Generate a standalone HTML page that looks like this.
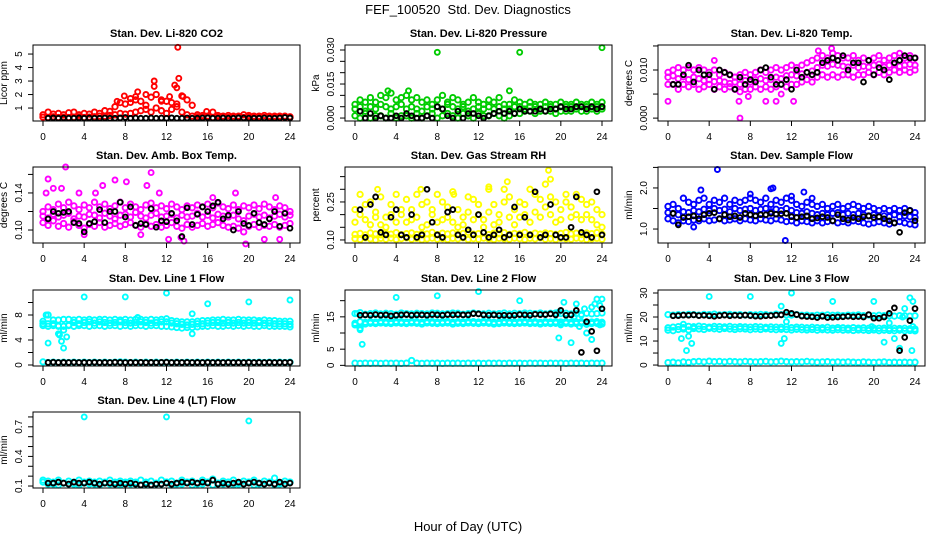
<!DOCTYPE html>
<html><head><meta charset="utf-8"><style>
html,body{margin:0;padding:0;background:#fff;}
svg{display:block;font-family:"Liberation Sans",sans-serif;}
</style></head><body>
<svg id="fig" width="936" height="540" viewBox="0 0 936 540">
<text x="468" y="14" text-anchor="middle" font-size="13" style="white-space:pre">FEF_100520  Std. Dev. Diagnostics</text>
<text x="468" y="531" text-anchor="middle" font-size="13">Hour of Day (UTC)</text>
</svg>
<script>
const hours=[0,0.5,1,1.5,2,2.5,3,3.5,4,4.5,5,5.5,6,6.5,7,7.5,8,8.5,9,9.5,10,10.5,11,11.5,12,12.5,13,13.5,14,14.5,15,15.5,16,16.5,17,17.5,18,18.5,19,19.5,20,20.5,21,21.5,22,22.5,23,23.5,24];
const hoursK=hours.slice(1);
const xTicks=[0,4,8,12,16,20,24];

// CO2
const co2Low=[0.32,0.3,0.35,0.3,0.33,0.3,0.32,0.35,0.3,0.33,0.35,0.4,0.38,0.45,0.5,0.6,0.55,0.6,0.7,0.8,0.9,0.7,1.0,0.8,0.6,0.9,1.1,0.7,0.5,0.4,0.35,0.32,0.3,0.3,0.32,0.3,0.3,0.33,0.3,0.3,0.32,0.3,0.3,0.3,0.33,0.3,0.3,0.3,0.3];
const co2High=[0.5,0.7,0.55,0.6,0.5,0.65,0.7,0.5,0.6,0.55,0.7,0.6,0.8,0.75,1.1,1.4,1.3,1.7,1.6,1.5,1.2,1.8,2.0,1.6,1.5,1.4,1.3,1.9,1.6,1.2,0.5,0.45,0.4,0.7,0.45,0.4,0.45,0.4,0.4,0.5,0.45,0.4,0.4,0.45,0.4,0.4,0.4,0.4,0.35];
const co2Black=[0.25,0.27,0.25,0.26,0.25,0.25,0.27,0.25,0.26,0.25,0.25,0.26,0.25,0.25,0.27,0.3,0.25,0.26,0.25,0.25,0.27,0.25,0.26,0.25,0.28,0.25,0.25,0.26,0.25,0.25,0.26,0.28,0.25,0.25,0.26,0.25,0.25,0.27,0.26,0.25,0.25,0.25,0.26,0.25,0.25,0.26,0.3,0.27];
const co2OutX=[13.1,13.2,10.8,10.8,12.8,13,9.2,10,7.9,12.3,13.6,15.9,9,11.5,8.5,7.2];
const co2OutY=[5.5,3.2,3.0,2.6,2.7,2.5,2.2,2.0,1.9,1.85,1.85,0.75,1.85,1.5,1.4,1.5];

// Pressure
const prLow=[0.001,0,0.002,0,0.001,0.001,0,0.002,0,0.001,0.001,0,0.002,0,0.001,0.002,0,0.001,0.002,0.001,0,0.002,0.001,0,0.002,0.001,0.001,0.002,0.001,0,0.001,0.002,0.002,0.003,0.003,0.002,0.003,0.003,0.003,0.002,0.003,0.003,0.003,0.004,0.003,0.003,0.004,0.003,0.004];
const prMid=[0.004,0.005,0.003,0.005,0.004,0.006,0.005,0.004,0.005,0.006,0.004,0.005,0.004,0.003,0.005,0.004,0.005,0.004,0.006,0.005,0.004,0.005,0.003,0.004,0.005,0.004,0.005,0.004,0.005,0.004,0.004,0.005,0.005,0.004,0.005,0.005,0.004,0.005,0.005,0.004,0.005,0.005,0.005,0.005,0.005,0.005,0.005,0.005,0.005];
const prHigh=[0.006,0.008,0.007,0.009,0.007,0.01,0.009,0.011,0.008,0.009,0.01,0.008,0.009,0.007,0.008,0.006,0.008,0.01,0.007,0.009,0.008,0.006,0.007,0.009,0.007,0.006,0.008,0.007,0.009,0.006,0.006,0.008,0.007,0.006,0.007,0.006,0.006,0.007,0.006,0.006,0.007,0.006,0.006,0.007,0.006,0.006,0.007,0.006,0.007];
const prBlack=[0.003,0,0.002,0,0.001,0,0,0.001,0,0.002,0.001,0,0,0.001,0,0.005,0.004,0.001,0,0.003,0,0.002,0.002,0.001,0,0.001,0.002,0.003,0.002,0.003,0.002,0.004,0.003,0.003,0.003,0.004,0.003,0.004,0.004,0.005,0.004,0.004,0.005,0.005,0.004,0.005,0.004,0.005];
const prOutX=[8,16,24,5.2,3.2,15];
const prOutY=[0.029,0.029,0.031,0.012,0.012,0.012];

// Li-820 temperature
const ltLow=[0.007,0.007,0.006,0.007,0.0065,0.007,0.006,0.0065,0.007,0.006,0.0065,0.006,0.0065,0.006,0.0055,0.006,0.006,0.0065,0.006,0.0065,0.006,0.0065,0.007,0.0065,0.007,0.007,0.0075,0.008,0.0075,0.0085,0.009,0.0085,0.009,0.0085,0.009,0.009,0.0085,0.009,0.009,0.0095,0.009,0.0095,0.009,0.0095,0.01,0.0095,0.01,0.0095,0.01];
const ltMid=[0.0085,0.0088,0.0082,0.0086,0.008,0.0085,0.0082,0.0078,0.008,0.0076,0.0078,0.0075,0.0072,0.0075,0.007,0.0078,0.0075,0.008,0.0082,0.0078,0.008,0.0085,0.0082,0.0088,0.009,0.0088,0.0092,0.0095,0.0098,0.0105,0.011,0.0108,0.0112,0.011,0.0108,0.0106,0.011,0.0105,0.0108,0.0106,0.011,0.0112,0.0106,0.011,0.0112,0.0108,0.011,0.0112,0.011];
const ltHigh=[0.0095,0.01,0.0105,0.01,0.0105,0.01,0.0105,0.01,0.0095,0.01,0.009,0.0095,0.009,0.0085,0.009,0.0095,0.009,0.0095,0.01,0.0095,0.01,0.0105,0.01,0.0105,0.011,0.0105,0.011,0.0115,0.012,0.0125,0.013,0.0125,0.0135,0.013,0.0125,0.0125,0.013,0.012,0.0125,0.012,0.0125,0.013,0.012,0.0125,0.013,0.012,0.0125,0.013,0.0125];
const ltBlack=[0.007,0.007,0.009,0.011,0.0075,0.01,0.009,0.009,0.006,0.01,0.0095,0.009,0.006,0.0085,0.007,0.008,0.0075,0.01,0.0105,0.0085,0.007,0.007,0.008,0.006,0.01,0.0085,0.0095,0.009,0.0095,0.0115,0.012,0.0125,0.012,0.013,0.01,0.0115,0.0115,0.0075,0.012,0.009,0.0105,0.01,0.008,0.0115,0.012,0.013,0.0125,0.0125];
const ltOutX=[0,7,6.9,9.5,10.5,12.2,14.6,15.9,4.5,22.5,7.8,11];
const ltOutY=[0.0035,0,0.0035,0.0035,0.0035,0.0035,0.014,0.0145,0.012,0.0135,0.0045,0.005];

// Ambient box temperature
const abLow=[0.108,0.105,0.11,0.104,0.107,0.103,0.109,0.105,0.102,0.106,0.104,0.108,0.103,0.105,0.107,0.104,0.106,0.108,0.105,0.103,0.107,0.104,0.106,0.103,0.105,0.108,0.104,0.102,0.106,0.103,0.105,0.107,0.104,0.106,0.108,0.105,0.103,0.104,0.102,0.098,0.104,0.106,0.103,0.105,0.104,0.106,0.103,0.105,0.107];
const abMid=[0.115,0.113,0.117,0.114,0.116,0.118,0.112,0.115,0.114,0.117,0.116,0.113,0.118,0.115,0.112,0.116,0.117,0.114,0.119,0.115,0.113,0.116,0.118,0.114,0.115,0.117,0.113,0.116,0.114,0.115,0.118,0.114,0.116,0.113,0.117,0.115,0.114,0.116,0.112,0.11,0.115,0.117,0.114,0.116,0.113,0.115,0.117,0.114,0.116];
const abHigh=[0.12,0.125,0.122,0.128,0.124,0.13,0.126,0.122,0.127,0.124,0.13,0.125,0.128,0.123,0.126,0.13,0.124,0.128,0.125,0.122,0.127,0.129,0.124,0.126,0.123,0.128,0.125,0.122,0.126,0.124,0.127,0.125,0.128,0.124,0.129,0.125,0.123,0.127,0.122,0.126,0.124,0.127,0.123,0.128,0.125,0.122,0.126,0.124,0.12];
const abBlack=[0.112,0.12,0.118,0.119,0.12,0.108,0.107,0.098,0.107,0.109,0.122,0.108,0.12,0.12,0.13,0.114,0.125,0.105,0.107,0.106,0.123,0.103,0.11,0.109,0.118,0.11,0.093,0.124,0.106,0.117,0.125,0.12,0.126,0.13,0.112,0.116,0.1,0.12,0.107,0.105,0.118,0.108,0.106,0.112,0.12,0.104,0.118,0.102];
const abOutX=[0.5,0.3,1,1.8,2.2,3.5,5.1,5.8,7,8.1,10.1,10.5,11.3,12.2,13.7,13.4,18.7,19.7,21.5,23,22.6,4,9.5,16.5];
const abOutY=[0.155,0.14,0.145,0.145,0.168,0.14,0.14,0.148,0.154,0.152,0.148,0.162,0.14,0.09,0.088,0.092,0.14,0.085,0.09,0.09,0.135,0.095,0.095,0.135];

// Gas stream RH
const rhLow=[0.105,0.102,0.108,0.104,0.1,0.106,0.103,0.107,0.102,0.105,0.108,0.103,0.106,0.101,0.104,0.107,0.103,0.105,0.102,0.106,0.104,0.108,0.102,0.105,0.103,0.107,0.104,0.102,0.106,0.104,0.103,0.107,0.105,0.102,0.106,0.104,0.108,0.103,0.105,0.102,0.106,0.104,0.103,0.107,0.105,0.102,0.104,0.106,0.103];
const rhHigh=[0.122,0.126,0.12,0.128,0.124,0.12,0.127,0.123,0.129,0.121,0.125,0.128,0.122,0.126,0.124,0.13,0.121,0.127,0.124,0.128,0.122,0.126,0.13,0.123,0.125,0.128,0.121,0.127,0.124,0.129,0.122,0.126,0.124,0.13,0.121,0.127,0.123,0.128,0.125,0.122,0.126,0.13,0.124,0.127,0.121,0.128,0.125,0.129,0.123];
const rhCloudA=[0.22,0.28,0.18,0.25,0.21,0.16,0.19,0.24,0.28,0.2,0.17,0.22,0.28,0.15,0.25,0.2,0.28,0.18,0.23,0.17,0.15,0.19,0.21,0.26,0.24,0.18,0.3,0.16,0.2,0.25,0.27,0.22,0.19,0.24,0.3,0.21,0.26,0.32,0.2,0.25,0.18,0.28,0.23,0.2,0.26,0.24,0.18,0.22,0.2];
const rhCloudB=[0.17,0.2,0.24,0.16,0.19,0.27,0.15,0.2,0.17,0.22,0.26,0.18,0.19,0.24,0.16,0.22,0.17,0.25,0.19,0.29,0.22,0.16,0.27,0.18,0.2,0.15,0.21,0.24,0.17,0.3,0.19,0.16,0.25,0.2,0.17,0.28,0.19,0.23,0.27,0.17,0.22,0.25,0.19,0.28,0.18,0.2,0.25,0.16,0.15];
const rhBlack=[0.22,0.11,0.24,0.27,0.13,0.12,0.19,0.22,0.12,0.11,0.2,0.11,0.12,0.3,0.17,0.12,0.11,0.21,0.22,0.12,0.11,0.14,0.12,0.2,0.13,0.11,0.12,0.14,0.11,0.12,0.23,0.12,0.19,0.12,0.29,0.11,0.12,0.24,0.12,0.11,0.11,0.15,0.27,0.13,0.12,0.11,0.29,0.12];
const rhOutX=[18.8,14.8,2.2,6.4,13,19,9.6];
const rhOutY=[0.375,0.33,0.3,0.3,0.31,0.34,0.28];

// Sample flow
const sfLow=[1.25,1.2,1.15,1.2,1.18,1.22,1.2,1.25,1.2,1.22,1.25,1.2,1.22,1.25,1.2,1.25,1.22,1.2,1.25,1.22,1.2,1.25,1.22,1.18,1.2,1.15,1.2,1.18,1.15,1.2,1.15,1.18,1.2,1.15,1.18,1.15,1.2,1.18,1.15,1.12,1.15,1.18,1.15,1.12,1.15,1.18,1.15,1.12,1.1];
const sfMid=[1.4,1.38,1.35,1.42,1.4,1.45,1.42,1.48,1.45,1.5,1.45,1.48,1.42,1.5,1.45,1.48,1.5,1.45,1.48,1.5,1.42,1.48,1.45,1.5,1.45,1.4,1.38,1.42,1.38,1.35,1.38,1.35,1.38,1.4,1.35,1.38,1.35,1.38,1.35,1.32,1.35,1.3,1.32,1.3,1.35,1.3,1.32,1.3,1.28];
const sfHigh=[1.55,1.6,1.5,1.75,1.65,1.6,1.7,1.75,1.6,1.7,1.65,1.75,1.6,1.7,1.65,1.7,1.75,1.7,1.65,1.75,1.6,1.7,1.65,1.75,1.7,1.6,1.55,1.65,1.6,1.55,1.6,1.5,1.55,1.6,1.5,1.55,1.6,1.55,1.5,1.55,1.5,1.45,1.5,1.45,1.5,1.45,1.5,1.45,1.4];
const sfBlack=[1.38,1.1,1.28,1.3,1.32,1.25,1.35,1.38,1.4,1.25,1.35,1.3,1.32,1.28,1.38,1.35,1.32,1.35,1.35,1.38,1.36,1.37,1.38,1.3,1.28,1.3,1.32,1.25,1.27,1.3,1.28,1.2,1.35,1.25,1.22,1.28,1.25,1.3,1.32,1.28,1.3,1.25,1.2,1.15,0.92,1.4,1.45,1.2];
const sfOutX=[4.8,11.4,3.2,10,10.2,13.2,2.5,8,12,14];
const sfOutY=[2.45,0.72,1.95,1.98,2.0,1.9,1.05,1.85,1.8,1.75];

// Line 1 flow
const l1Band=[7.0,8.0,6.6,6.2,5.6,6.4,6.8,6.6,6.8,6.9,6.7,6.9,6.8,6.7,6.8,6.9,6.8,6.7,6.8,6.9,6.8,6.7,6.8,6.9,6.9,6.7,6.6,6.5,6.4,6.5,6.6,6.6,6.7,6.8,6.8,6.7,6.8,6.7,6.8,6.7,6.8,6.7,6.8,6.7,6.7,6.6,6.6,6.6,6.5];
const l1BandB=[6.3,6.6,7.2,7.2,7.3,7.3,7.2,7.3,7.2,7.3,7.2,7.3,7.3,7.2,7.3,7.2,7.3,7.2,7.3,7.3,7.2,7.3,7.2,7.3,7.4,7.1,7.0,6.9,6.9,6.9,7.0,7.1,7.1,7.2,7.2,7.3,7.2,7.2,7.3,7.2,7.2,7.2,7.1,7.2,7.1,7.1,7.0,7.0,7.0];
const l1BandC=[6.6,6.2,6.3,6.3,6.2,6.3,6.2,6.3,6.3,6.2,6.3,6.3,6.2,6.3,6.3,6.2,6.3,6.2,6.3,6.3,6.2,6.3,6.3,6.2,6.2,6.1,6.0,5.9,6.0,6.0,6.1,6.2,6.2,6.3,6.2,6.2,6.3,6.2,6.3,6.2,6.3,6.2,6.2,6.3,6.2,6.2,6.2,6.2,6.1];
const l1Base=[0.5,0.4,0.45,0.4,0.45,0.4,0.45,0.4,0.45,0.4,0.45,0.4,0.45,0.4,0.45,0.5,0.45,0.4,0.45,0.4,0.45,0.4,0.45,0.4,0.45,0.4,0.45,0.4,0.45,0.4,0.45,0.4,0.45,0.4,0.45,0.4,0.45,0.4,0.45,0.4,0.45,0.4,0.45,0.4,0.45,0.4,0.45,0.4,0.45];
const l1Black=[0.4,0.45,0.4,0.42,0.4,0.43,0.4,0.42,0.4,0.43,0.4,0.42,0.4,0.45,0.42,0.4,0.42,0.4,0.43,0.4,0.42,0.4,0.43,0.45,0.4,0.42,0.4,0.43,0.4,0.42,0.4,0.43,0.4,0.42,0.4,0.43,0.4,0.42,0.4,0.43,0.4,0.42,0.4,0.43,0.4,0.42,0.4,0.43];
const l1OutX=[4,8,12,16,20,24,0.5,1.5,1.8,2,2.3,14.5,14.5,0.3,1.6,9.2];
const l1OutY=[10.9,10.9,11.5,9.8,10.1,10.4,3.5,5,3.8,2.7,4.5,5,8.2,8,4.8,7.6];

// Line 2 flow
const l2Band=[12.5,11.5,12.8,13.0,12.9,13.1,13.0,12.9,13.1,13.0,12.9,13.1,13.0,12.8,13.1,13.0,12.9,13.0,13.1,12.8,13.0,12.9,13.1,13.0,12.9,13.1,13.0,12.8,12.9,13.1,13.0,12.9,13.0,13.1,12.9,13.0,12.8,13.0,12.9,13.0,12.9,13.0,12.8,12.9,13.0,12.7,12.9,13.0,12.8];
const l2BandB=[13.0,13.5,13.3,13.5,13.4,13.6,13.5,13.4,13.6,13.5,13.4,13.6,13.5,13.3,13.6,13.5,13.4,13.5,13.6,13.3,13.5,13.4,13.6,13.5,13.4,13.6,13.5,13.3,13.4,13.6,13.5,13.4,13.5,13.6,13.4,13.5,13.3,13.5,13.4,13.5,13.4,13.5,13.3,13.4,13.5,13.2,13.4,13.5,13.3];
const l2Upper=[16,16.3,15.8,16.0,16.2,15.9,16.1,16.0,15.8,16.2,16.0,15.9,16.1,16.0,15.9,16.2,16.1,15.9,16.0,16.2,16.1,15.8,16.0,16.2,16.0,15.9,16.1,15.9,16.0,16.2,15.9,16.1,16.0,16.2,16.1,16.0,16.2,15.9,16.1,16.2,16.0,16.1,15.9,16.0,15.8,16.1,15.9,16.0,16.2];
const l2Base=[0.7,0.6,0.7,0.65,0.7,0.6,0.7,0.65,0.7,0.6,0.7,1.5,0.7,0.6,0.7,0.65,0.7,0.6,0.7,0.65,0.7,0.6,0.7,0.65,0.7,0.6,0.7,0.65,0.7,0.6,0.7,0.65,0.7,0.6,0.7,0.65,0.7,0.6,0.7,0.65,0.7,0.6,0.7,0.65,0.7,0.6,0.7,0.65,0.7];
const l2Black=[15.5,15.6,15.5,15.7,15.5,15.6,15.3,15.5,15.6,15.7,15.5,15.6,15.6,15.5,15.7,15.6,15.5,15.7,15.6,15.7,15.6,15.6,16.0,15.9,15.6,15.5,15.6,15.4,15.5,15.4,15.5,15.7,15.6,15.5,15.8,15.7,15.7,15.9,15.6,17.0,15.5,15.6,17.0,4.0,13.5,10.5,4.5,17.5];
const l2OutX=[4,8,12,16,19.8,20.3,21,21.3,21.8,22,22.3,22.5,23,23,23.3,23.5,24,0.5,0.7,0.2,19.8,20,21.5,23.8,23.8];
const l2OutY=[21,21.5,22.8,20,8.5,19.5,7,15,12,15.5,17.5,10,8,18,19,20.5,20.5,11,6.5,16,16.5,12.5,19,12.5,18.5];

// Line 3 flow
const l3Band=[14.5,14.3,14.8,15.0,14.6,15.2,15.0,14.8,15.3,15.1,14.9,15.2,15.0,14.8,15.1,15.0,14.7,15.0,14.8,15.1,14.9,14.7,14.9,14.8,14.6,14.9,14.7,14.6,14.8,14.5,14.7,14.6,14.5,14.7,14.5,14.6,14.4,14.6,14.5,14.4,14.6,14.3,14.5,14.4,14.3,14.5,14.3,14.4,14.2];
const l3BandB=[15.5,15.8,16.0,15.6,16.1,15.9,16.2,16.0,15.8,16.1,16.0,15.9,16.1,15.8,16.0,15.9,15.8,16.0,15.9,15.7,15.9,15.8,15.7,15.9,15.6,15.8,15.7,15.5,15.7,15.6,15.5,15.7,15.4,15.6,15.5,15.4,15.6,15.4,15.5,15.3,15.4,15.3,15.4,15.2,15.3,15.2,15.3,15.1,15.0];
const l3Upper=[21,20.8,21.0,20.9,21.1,21.0,20.8,21.1,21.0,21.2,20.9,21.0,21.1,20.9,21.0,20.8,21.0,20.9,21.1,21.0,20.8,21.2,21.0,20.9,20.8,21.0,20.7,20.8,20.6,20.8,20.7,20.9,20.7,20.8,20.6,20.8,20.7,20.9,20.6,20.8,20.5,20.7,20.6,20.5,20.4,20.6,20.5,20.4,20.5];
const l3Base=[1.0,1.2,0.9,1.3,1.1,1.4,1.5,1.3,1.6,1.4,1.5,1.3,1.5,1.4,1.3,1.5,1.4,1.3,1.4,1.5,1.3,1.4,1.6,1.4,1.3,1.4,1.3,1.5,1.3,1.2,1.3,1.4,1.2,1.3,1.2,1.3,1.2,1.1,1.3,1.2,1.1,1.2,1.3,1.1,1.2,1.1,1.2,1.1,1.2];
const l3Black=[20.5,20.6,20.8,20.7,20.9,20.6,20.7,20.5,20.3,20.6,20.8,20.5,20.7,20.6,20.8,20.6,20.4,20.3,20.5,20.6,20.8,20.9,22.0,21.5,21.0,20.4,20.2,20.1,19.8,20.3,19.8,19.9,20.0,20.1,20.3,20.1,20.2,20.0,21.0,19.5,19.5,20.0,21.5,23.8,6.0,11.5,18.5,23.5];
const l3OutX=[4,8,12,16,20,1.3,1.5,1.8,2,2.3,2.5,11,11.3,11,11.5,21,22,22.5,23,23.5,23.8,21.5,22.8,19.8,23.7,23.8];
const l3OutY=[28.5,28.5,30,26.5,26.5,11,17,6,12,9,16,9,11,24.5,18,9.5,11,7,23.5,28,26.5,17.5,20,16,6,16];

// Line 4 (LT) flow
const l4Band=[0.16,0.12,0.14,0.11,0.13,0.12,0.14,0.11,0.13,0.12,0.14,0.11,0.13,0.12,0.14,0.11,0.13,0.12,0.14,0.11,0.12,0.11,0.13,0.12,0.14,0.11,0.13,0.12,0.14,0.11,0.13,0.12,0.14,0.11,0.13,0.12,0.14,0.11,0.13,0.12,0.14,0.11,0.13,0.12,0.14,0.11,0.13,0.12,0.14];
const l4BandB=[0.14,0.15,0.12,0.16,0.13,0.15,0.12,0.16,0.14,0.15,0.12,0.15,0.14,0.16,0.12,0.15,0.14,0.15,0.12,0.16,0.14,0.15,0.12,0.16,0.14,0.15,0.12,0.16,0.14,0.15,0.12,0.16,0.14,0.17,0.12,0.15,0.14,0.16,0.12,0.15,0.14,0.16,0.12,0.15,0.14,0.18,0.12,0.15,0.14];
const l4Black=[0.13,0.13,0.14,0.13,0.12,0.14,0.13,0.13,0.14,0.13,0.12,0.13,0.13,0.12,0.13,0.12,0.13,0.12,0.11,0.12,0.11,0.12,0.12,0.13,0.12,0.13,0.14,0.13,0.14,0.13,0.14,0.13,0.16,0.12,0.13,0.12,0.13,0.14,0.12,0.13,0.14,0.13,0.12,0.13,0.12,0.14,0.12,0.13];
const l4OutX=[4,12,20];
const l4OutY=[0.8,0.8,0.76];

const NS='http://www.w3.org/2000/svg';
const svg=document.getElementById('fig');
function mk(tag,attrs,parent){const e=document.createElementNS(NS,tag);for(const k in attrs)e.setAttribute(k,attrs[k]);(parent||svg).appendChild(e);return e;}

const cols=[33,345,658], rows=[45,167,290,412], W=267, H=76;
const panels=[
 {id:'co2',title:'Stan. Dev. Li-820 CO2',ylab:'Licor ppm',c:0,r:0,yl:[0.04,5.67],ticks:[1,2,3,4,5],labs:['1','2','3','4','5'],col:'#ff0000',series:[co2Low,co2High],ox:co2OutX,oy:co2OutY,k:co2Black},
 {id:'pressure',title:'Stan. Dev. Li-820 Pressure',ylab:'kPa',c:1,r:0,yl:[-0.0013,0.0322],ticks:[0,0.005,0.01,0.015,0.02,0.025,0.03],labs:['0.000','','','0.015','','','0.030'],col:'#00cc00',series:[prLow,prMid,prHigh],ox:prOutX,oy:prOutY,k:prBlack},
 {id:'li-temp',title:'Stan. Dev. Li-820 Temp.',ylab:'degrees C',c:2,r:0,yl:[-0.0006,0.0152],ticks:[0,0.005,0.01,0.015],labs:['0.000','','0.010',''],col:'#ff00ff',series:[ltLow,ltMid,ltHigh],ox:ltOutX,oy:ltOutY,k:ltBlack},
 {id:'amb-temp',title:'Stan. Dev. Amb. Box Temp.',ylab:'degrees C',c:0,r:1,yl:[0.086,0.168],ticks:[0.1,0.12,0.14,0.16],labs:['0.10','','0.14',''],col:'#ff00ff',series:[abLow,abMid,abHigh],ox:abOutX,oy:abOutY,k:abBlack},
 {id:'rh',title:'Stan. Dev. Gas Stream RH',ylab:'percent',c:1,r:1,yl:[0.088,0.388],ticks:[0.1,0.15,0.2,0.25,0.3,0.35],labs:['0.10','','','0.25','',''],col:'#ffff00',series:[rhLow,rhHigh,rhCloudA,rhCloudB],ox:rhOutX,oy:rhOutY,k:rhBlack},
 {id:'sample-flow',title:'Stan. Dev. Sample Flow',ylab:'ml/min',c:2,r:1,yl:[0.66,2.51],ticks:[1,1.5,2,2.5],labs:['1.0','','2.0',''],col:'#0000ff',series:[sfLow,sfMid,sfHigh],ox:sfOutX,oy:sfOutY,k:sfBlack},
 {id:'line1',title:'Stan. Dev. Line 1 Flow',ylab:'ml/min',c:0,r:2,yl:[-0.16,12],ticks:[0,2,4,6,8,10],labs:['0','','4','','8',''],col:'#00ffff',series:[l1Band,l1BandB,l1BandC,l1Base],ox:l1OutX,oy:l1OutY,k:l1Black},
 {id:'line2',title:'Stan. Dev. Line 2 Flow',ylab:'ml/min',c:1,r:2,yl:[-0.2,23.3],ticks:[0,5,10,15,20],labs:['0','5','','15',''],col:'#00ffff',series:[l2Band,l2BandB,l2Upper,l2Base],ox:l2OutX,oy:l2OutY,k:l2Black},
 {id:'line3',title:'Stan. Dev. Line 3 Flow',ylab:'ml/min',c:2,r:2,yl:[-0.4,31.25],ticks:[0,5,10,15,20,25,30],labs:['0','','10','','20','','30'],col:'#00ffff',series:[l3Band,l3BandB,l3Upper,l3Base],ox:l3OutX,oy:l3OutY,k:l3Black},
 {id:'line4',title:'Stan. Dev. Line 4 (LT) Flow',ylab:'ml/min',c:0,r:3,yl:[0.08,0.85],ticks:[0.1,0.2,0.3,0.4,0.5,0.6,0.7,0.8],labs:['0.1','','','0.4','','','0.7',''],col:'#00ffff',series:[l4Band,l4BandB],ox:l4OutX,oy:l4OutY,k:l4Black}
];

panels.forEach(p=>{
  const L=cols[p.c], T=rows[p.r];
  const g=mk('g',{});
  
  
  const xs=v=>L+10+v*(247/24);
  const ys=v=>T+H-(v-p.yl[0])/(p.yl[1]-p.yl[0])*H;
  const t=mk('text',{x:L+W/2,y:T-8,'text-anchor':'middle','font-size':'11','font-weight':'bold'},g);
  t.textContent=p.title;
  
  
  const yl=mk('text',{x:0,y:0,'text-anchor':'middle','font-size':'10',transform:`translate(${L-26},${T+H/2}) rotate(-90)`},g);
  yl.textContent=p.ylab;
  
  
  const pts=mk('g',{fill:'none','stroke-width':'1.9'},g);
  
  
  function dot(x,y,color,name,r){
    const yy=ys(y); if(yy<T-2||yy>T+H+2) return;
    const c=mk('circle',{cx:xs(x).toFixed(1),cy:yy.toFixed(1),r:r,stroke:color},pts);
    
    
  }
  p.series.forEach(s=>s.forEach((v,i)=>dot(hours[i],v,p.col,p.id+'-point','2.7')));
  p.ox.forEach((x,i)=>dot(x,p.oy[i],p.col,p.id+'-outlier','2.5'));
  p.k.forEach((v,i)=>dot(hoursK[i],v,'#000',p.id+'-black-point','2.4'));
  const b=mk('rect',{x:L,y:T,width:W,height:H,fill:'none',stroke:'#000','stroke-width':'1'},g);
  
  
  xTicks.forEach(v=>{
    mk('line',{x1:xs(v),x2:xs(v),y1:T+H,y2:T+H+5,stroke:'#000'},g);
    const tl=mk('text',{x:xs(v),y:T+H+19,'text-anchor':'middle','font-size':'10'},g);
    tl.textContent=String(v);
    
    
  });
  p.ticks.forEach((v,i)=>{
    const y=ys(v);
    mk('line',{x1:L-5,x2:L,y1:y,y2:y,stroke:'#000'},g);
    if(p.labs[i]){
      const tl=mk('text',{x:0,y:0,'text-anchor':'middle','font-size':'10',transform:`translate(${L-11},${y}) rotate(-90)`},g);
      tl.textContent=p.labs[i];
      
      
    }
  });
});
</script>
</body></html>
